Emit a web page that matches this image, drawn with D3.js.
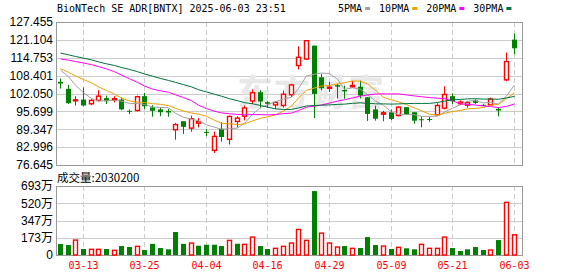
<!DOCTYPE html>
<html>
<head>
<meta charset="utf-8">
<script src="https://cdn.jsdelivr.net/npm/d3@7"></script>
<style>
  body { margin: 0; background: #fff; }
  svg { display: block; }
</style>
</head>
<body>
<div id="chart"></div>
<script>
// daily bars, BNTX 2025-03-10 .. 2025-06-03
const dates = [
  "03-10","03-11","03-12","03-13","03-14","03-17","03-18","03-19","03-20","03-21","03-24","03-25","03-26","03-27","03-28","03-31",
  "04-01","04-02","04-03","04-04","04-07","04-08","04-09","04-10","04-11","04-14","04-15","04-16","04-17","04-21","04-22","04-23","04-24","04-25","04-28","04-29","04-30",
  "05-01","05-02","05-05","05-06","05-07","05-08","05-09","05-12","05-13","05-14","05-15","05-16","05-19","05-20","05-21","05-22","05-23","05-27","05-28","05-29","05-30",
  "06-02","06-03"
];
const open = [106.2,103.7,99.5,99.9,98.4,99.6,100.4,99.9,99.9,95.9,96.0,101.1,97.1,96.4,95.9,89.15,92.2,89.75,91.5,88.4,81.85,89.5,85.75,92.1,94.0,99.4,102.5,98.95,98.0,97.8,101.6,112.0,114.3,119.05,107.8,103.9,105.0,103.3,104.4,104.5,100.7,96.4,94.7,95.4,94.25,97.2,95.4,92.9,93.0,94.5,96.85,101.1,98.4,97.9,99.6,98.0,98.0,96.6,106.9,121.2];
const high = [107.4,105.1,101.1,104.2,100.0,103.2,101.3,101.1,100.6,96.4,101.3,102.3,97.9,97.1,96.6,91.6,92.2,94.2,93.3,89.3,88.5,91.8,94.2,94.0,97.8,103.5,103.2,99.3,99.3,103.1,105.5,118.8,120.8,119.05,109.0,106.2,105.5,104.8,106.5,106.6,100.7,97.7,95.9,96.4,97.5,97.2,95.4,93.9,93.85,98.6,104.6,102.1,99.6,99.3,100.0,98.35,100.6,97.1,116.6,123.3];
const low = [103.8,98.3,97.8,97.5,97.9,99.2,98.3,98.9,96.1,94.7,95.7,96.4,93.8,94.0,93.8,85.65,87.7,88.5,90.0,86.9,80.9,84.9,83.9,90.0,92.5,98.3,96.8,96.9,96.5,97.0,100.8,110.6,114.0,93.3,103.2,102.6,100.3,100.2,104.0,100.3,92.3,92.4,92.2,92.6,93.9,94.5,91.3,90.0,92.0,94.3,96.4,98.3,97.9,97.0,98.35,97.5,97.8,93.9,106.4,116.0];
const close = [105.6,98.6,99.8,97.8,99.6,101.1,99.3,100.2,96.4,95.7,100.9,97.5,95.9,95.4,95.3,91.0,90.2,93.1,92.1,88.2,86.8,86.6,93.9,93.3,96.9,102.3,99.2,98.4,98.9,101.8,105.1,114.9,120.8,101.9,103.9,104.3,104.5,102.8,104.9,101.3,94.8,93.1,95.2,93.0,97.2,94.5,92.4,92.6,92.8,97.8,101.7,99.3,99.0,98.8,98.7,97.8,100.1,96.0,113.4,118.1];
const volume = [1100000,1000000,1500000,600000,570000,570000,600000,470000,900000,800000,870000,500000,1120000,700000,570000,2310000,1120000,1200000,930000,1030000,1030000,900000,1470000,1130000,1070000,1800000,900000,600000,670000,870000,1200000,2570000,1470000,6420000,2200000,1200000,800000,900000,670000,700000,1800000,1000000,900000,600000,770000,670000,570000,1070000,670000,670000,1800000,700000,400000,570000,800000,500000,500000,1500000,5280000,2030200];

// moving averages as shown on the chart
const ma5 = [110.4,108.0,105.0,102.3,100.28,99.38,99.52,99.6,99.32,98.54,98.5,98.14,97.28,97.08,97.0,95.02,93.56,93.0,92.34,90.92,90.08,89.36,89.52,89.76,91.5,94.6,97.12,98.02,99.14,100.12,100.68,103.82,108.3,108.9,109.32,109.16,107.08,103.48,104.08,103.56,101.66,99.38,97.86,95.48,94.66,94.6,94.46,93.94,93.9,94.02,95.46,96.84,98.12,99.32,99.5,98.72,98.88,98.28,101.2,105.08];
const ma10 = [110.9,109.6,108.3,107.0,105.8,104.4,103.1,101.8,100.4,99.41,98.94,98.83,98.44,98.2,97.77,96.76,95.85,95.14,94.71,93.96,92.55,91.46,91.26,91.05,91.21,92.34,93.24,93.77,94.45,95.81,97.64,100.47,103.16,104.02,104.72,104.92,105.45,105.89,106.49,106.44,105.41,103.23,100.67,99.78,99.11,98.13,96.92,95.9,94.69,94.34,95.03,95.65,96.03,96.61,96.76,97.09,97.86,98.2,100.26,102.29];
const ma20 = [114.3,113.9,113.4,112.9,112.3,111.6,110.8,109.8,108.6,107.3,106.0,104.7,103.6,103.0,102.5,101.6,100.6,99.5,97.9,96.69,95.75,95.15,94.85,94.63,94.49,94.55,94.55,94.46,94.58,94.89,95.1,95.97,97.21,97.54,97.97,98.63,99.35,99.83,100.47,101.13,101.53,101.85,101.92,101.9,101.92,101.53,101.19,100.9,100.59,100.39,100.22,99.44,98.35,98.2,97.94,97.61,97.39,97.05,97.48,98.32];
const ma30 = [116.4,115.8,115.2,114.6,114.0,113.3,112.6,112.0,111.3,110.6,109.8,109.0,108.2,107.4,106.7,106.0,105.2,104.4,103.4,102.6,101.8,101.1,100.2,99.5,98.8,98.4,97.8,97.2,96.6,96.39,96.38,96.92,97.62,97.76,97.9,98.01,98.18,98.27,98.55,98.74,98.53,98.39,98.36,98.28,98.35,98.46,98.54,98.52,98.54,98.86,99.36,99.78,99.95,100.14,100.2,100.05,100.08,100.0,100.48,101.02];

const maNames = ["5PMA", "10PMA", "20PMA", "30PMA"];
const maColors = ["#a0a0a0", "#f0a000", "#ff00ff", "#00703c"];

const priceTicks = [76.645, 82.996, 89.347, 95.699, 102.050, 108.401, 114.753, 121.104, 127.455];
const volTicks = [0, 1732500, 3465000, 5197500, 6930000];
const volTickLabels = ["0", "173万", "347万", "520万", "693万"];
const dateTicks = ["03-13", "03-25", "04-04", "04-16", "04-29", "05-09", "05-21", "06-03"];

const titleText = "BioNTech SE ADR[BNTX] 2025-06-03 23:51";
const volTitle = "成交量:2030200";

const width = 578;
const height = 276;
const frame = { left: 56, right: 522, top: 22, bottom: 165, volTop: 186, volBottom: 255 };
const monoFont = "'DejaVu Sans Mono', monospace";
const axisFont = "'Liberation Sans', 'Noto Sans CJK SC', sans-serif";
const upColor = "#ff0000";
const downColor = "#008000";

const svg = d3.select('#chart').append("svg")
  .attr("width", width)
  .attr("height", height);

const x = d3.scaleBand()
  .domain(dates)
  .range([frame.left, frame.left + 7.69 * dates.length]);
const cx = i => Math.round(x(dates[i]) + x.bandwidth() / 2);

const y = d3.scaleLinear()
  .domain([priceTicks[0], priceTicks[priceTicks.length - 1]])
  .range([frame.bottom, frame.top]);

const yVol = d3.scaleLinear()
  .domain([0, volTicks[volTicks.length - 1]])
  .range([frame.volBottom, frame.volTop]);

// grid + y labels
function styleAxis(g) {
  g.select(".domain").remove();
  g.selectAll(".tick line").attr("stroke", "#cccccc").attr("shape-rendering", "crispEdges");
  g.selectAll(".tick text")
    .attr("fill", "#000")
    .style("font-family", axisFont)
    .style("font-size", "12px");
}

svg.append("g")
  .attr("transform", `translate(${frame.left},0)`)
  .call(d3.axisLeft(y)
    .tickValues(priceTicks)
    .tickSize(-(frame.right - frame.left))
    .tickPadding(3)
    .tickFormat(d3.format(".3f")))
  .call(styleAxis);

svg.append("g")
  .attr("transform", `translate(${frame.left},0)`)
  .call(d3.axisLeft(yVol)
    .tickValues(volTicks)
    .tickSize(-(frame.right - frame.left))
    .tickPadding(3)
    .tickFormat((d, i) => volTickLabels[i]))
  .call(styleAxis);

// watermark
svg.append("text")
  .attr("x", 237)
  .attr("y", 106)
  .attr("fill", "#e8e8e8")
  .style("font-family", "'Noto Sans CJK SC', sans-serif")
  .style("font-size", "36px")
  .style("font-weight", "bold")
  .style("letter-spacing", "1px")
  .text("东方财富");

// dashed date lines
const dashG = svg.append("g");
dateTicks.forEach(d => {
  const xx = cx(dates.indexOf(d)) + 0.5;
  [[frame.top, frame.bottom], [frame.volTop, frame.volBottom]].forEach(([a, b]) => {
    dashG.append("line")
      .attr("x1", xx).attr("x2", xx)
      .attr("y1", a).attr("y2", b)
      .attr("stroke", "#cccccc")
      .attr("stroke-dasharray", "5,3");
  });
  svg.append("text")
    .attr("x", xx)
    .attr("y", 269)
    .attr("text-anchor", "middle")
    .attr("fill", "#ff0000")
    .style("font-family", monoFont)
    .style("font-size", "10px")
    .text(d);
});

// frames
[[frame.top, frame.bottom], [frame.volTop, frame.volBottom]].forEach(([a, b]) => {
  svg.append("rect")
    .attr("x", frame.left + 0.5)
    .attr("y", a + 0.5)
    .attr("width", frame.right - frame.left)
    .attr("height", b - a)
    .attr("fill", "none")
    .attr("stroke", "#999999");
});

// candles
const idx = d3.range(dates.length);
const candles = svg.append("g").selectAll("g")
  .data(idx)
  .enter()
  .append("g");

candles.append("line")
  .attr("x1", i => cx(i) + 0.5)
  .attr("x2", i => cx(i) + 0.5)
  .attr("y1", i => y(high[i]))
  .attr("y2", i => y(low[i]))
  .attr("stroke", i => close[i] >= open[i] ? upColor : downColor)
  .attr("stroke-width", 1);

candles.append("rect")
  .attr("x", i => close[i] >= open[i] ? cx(i) - 1.5 : cx(i) - 2)
  .attr("width", i => close[i] >= open[i] ? 4 : 5)
  .attr("y", i => y(Math.max(open[i], close[i])))
  .attr("height", i => Math.max(1, y(Math.min(open[i], close[i])) - y(Math.max(open[i], close[i]))))
  .attr("fill", i => close[i] >= open[i] ? "#fff" : downColor)
  .attr("stroke", i => close[i] >= open[i] ? upColor : "none")
  .attr("stroke-width", 1.4);

// volume bars, coloured against previous close
const volUp = i => close[i] >= (i > 0 ? close[i - 1] : open[i]);
svg.append("g").selectAll("rect")
  .data(idx)
  .enter()
  .append("rect")
  .attr("x", i => volUp(i) ? cx(i) - 1.5 : cx(i) - 2)
  .attr("width", i => volUp(i) ? 4 : 5)
  .attr("y", i => yVol(volume[i]))
  .attr("height", i => frame.volBottom - yVol(volume[i]))
  .attr("fill", i => volUp(i) ? "#fff" : downColor)
  .attr("stroke", i => volUp(i) ? upColor : "none")
  .attr("stroke-width", 1.4);

// moving average lines
const line = d3.line()
  .x(d => cx(d[0]) + 0.5)
  .y(d => y(d[1]));

[ma5, ma10, ma20, ma30].forEach((ma, k) => {
  svg.append("path")
    .datum(ma.map((v, i) => [i, v]))
    .attr("d", line)
    .attr("fill", "none")
    .attr("stroke", maColors[k])
    .attr("stroke-width", 1);
});

// title + legend
svg.append("text")
  .attr("x", 57)
  .attr("y", 12)
  .attr("fill", "#000")
  .style("font-family", monoFont)
  .style("font-size", "10px")
  .text(titleText);

let lx = 338;
maNames.forEach((name, k) => {
  const t = svg.append("text")
    .attr("x", lx)
    .attr("y", 12)
    .attr("fill", "#000")
    .style("font-family", monoFont)
    .style("font-size", "10px")
    .text(name);
  const w = t.node().getComputedTextLength();
  svg.append("rect")
    .attr("x", lx + w + 3)
    .attr("y", 7)
    .attr("width", 5)
    .attr("height", 3)
    .attr("fill", maColors[k]);
  lx = lx + w + 3 + 5 + 9;
});

svg.append("text")
  .attr("x", 57)
  .attr("y", 182)
  .attr("fill", "#000")
  .style("font-family", "'Noto Sans CJK SC', sans-serif")
  .style("font-size", "11.5px")
  .text(volTitle);
</script>
</body>
</html>
